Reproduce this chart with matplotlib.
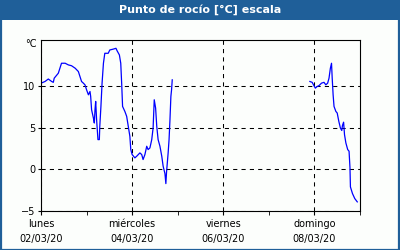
import matplotlib
matplotlib.use("Agg")
import matplotlib.pyplot as plt
from matplotlib.patches import Rectangle

# dew point, days since lunes 02/03/20 00:00
days_a = [0.0, 0.088, 0.16, 0.235, 0.27, 0.29, 0.38, 0.45, 0.53, 0.60, 0.67, 0.75,
          0.82, 0.855, 0.89, 0.93, 0.965, 1.0, 1.04, 1.075, 1.09, 1.11, 1.15, 1.17,
          1.185, 1.2, 1.22, 1.235, 1.25, 1.28, 1.29, 1.315, 1.34, 1.37, 1.40, 1.475,
          1.51, 1.585, 1.645, 1.67, 1.72, 1.75, 1.77, 1.79, 1.84, 1.88, 1.915, 1.95,
          1.97, 2.0, 2.06, 2.10, 2.17, 2.21, 2.24, 2.28, 2.32, 2.35, 2.39, 2.43,
          2.46, 2.485, 2.515, 2.54, 2.57, 2.61, 2.65, 2.68, 2.72, 2.74, 2.755, 2.79,
          2.81, 2.83, 2.85, 2.865, 2.88]
dew_a = [10.4, 10.6, 10.9, 10.6, 10.5, 11.0, 11.6, 12.8, 12.8, 12.6, 12.5, 12.2,
         11.8, 11.2, 10.6, 10.4, 10.2, 9.6, 9.0, 9.4, 8.8, 7.2, 6.2, 5.6,
         7.2, 8.2, 6.0, 4.8, 3.6, 3.6, 5.2, 7.6, 10.4, 12.8, 14.0, 14.0,
         14.4, 14.5, 14.6, 14.3, 13.8, 12.8, 10.4, 7.6, 7.0, 6.4, 5.2, 4.0,
         2.4, 1.8, 1.4, 1.6, 2.0, 1.8, 1.2, 1.8, 2.8, 2.4, 2.6, 3.6,
         5.0, 8.4, 7.4, 5.2, 3.6, 2.8, 1.6, 0.4, -0.5, -1.7, -0.3, 2.0,
         3.6, 6.0, 8.8, 9.6, 10.8]

days_b = [5.90, 5.95, 5.99, 6.02, 6.06, 6.10, 6.155, 6.21, 6.25, 6.29, 6.32, 6.35,
          6.375, 6.39, 6.41, 6.43, 6.47, 6.50, 6.535, 6.57, 6.60, 6.615, 6.64, 6.66,
          6.69, 6.73, 6.76, 6.78, 6.79, 6.835, 6.885, 6.94]
dew_b = [10.6, 10.5, 10.1, 9.8, 10.0, 10.1, 10.4, 10.5, 10.2, 10.4, 11.0, 12.2,
         12.8, 11.0, 9.0, 7.6, 7.0, 6.8, 5.8, 5.0, 4.7, 5.3, 5.7, 4.2,
         3.2, 2.4, 2.2, 0.2, -2.1, -2.9, -3.5, -3.9]

tick_days = [0, 2, 4, 6]
tick_labels = ["lunes\n02/03/20", "miércoles\n04/03/20", "viernes\n06/03/20", "domingo\n08/03/20"]
yticks = [-5, 0, 5, 10]

blue_frame = "#1f5f99"

W, H = 400, 250
fig = plt.figure(figsize=(W / 100, H / 100), dpi=100, facecolor="#fcfefc")

# title bar + frame
fig.patches.append(Rectangle((0, 1 - 20 / H), 1, 20 / H, transform=fig.transFigure,
                             facecolor=blue_frame, edgecolor="none", zorder=0))
fig.patches.append(Rectangle((0.5 / W, 0.5 / H), 1 - 2 / W, 1 - 1 / H, transform=fig.transFigure,
                             facecolor="none", edgecolor=blue_frame, linewidth=1.6, zorder=1))
fig.text(0.5, 1 - 10 / H, "Punto de rocío [°C] escala", color="white", fontsize=8,
         fontweight="bold", ha="center", va="center")

ax = fig.add_axes([41 / W, (H - 211) / H, 319 / W, 171 / H])
ax.set_facecolor("#fcfefc")

ax.plot(days_a, dew_a, color="#0000ff", lw=0.9)
ax.plot(days_b, dew_b, color="#0000ff", lw=0.9)

ax.set_xlim(0, 7)
ax.set_ylim(-5, 15.6)

ax.set_xticks(tick_days)
ax.set_xticklabels(tick_labels, linespacing=1.55)
ax.set_xticks([1, 3, 5, 7], minor=True)
ax.set_yticks(yticks)
ax.tick_params(axis="both", labelsize=7, colors="black", width=0.8)
ax.tick_params(axis="x", which="both", length=3, pad=3)
ax.tick_params(axis="y", length=2, pad=2)

for s in ax.spines.values():
    s.set_linewidth(0.8)

ax.grid(True, axis="both", which="major", color="black", lw=0.75, linestyle=(0, (4, 4)))
ax.text(-0.015, 0.975, "°C", transform=ax.transAxes, fontsize=7, ha="right", va="center")

fig.savefig("out.png", dpi=100, facecolor=fig.get_facecolor())
